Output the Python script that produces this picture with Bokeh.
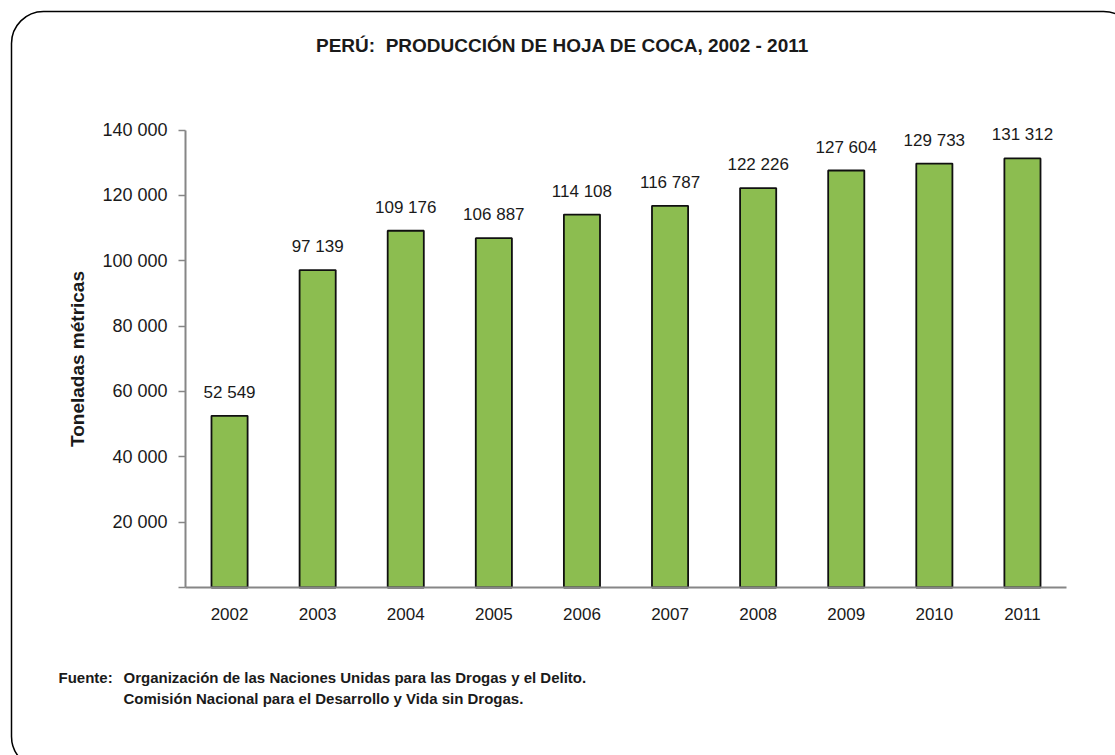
from bokeh.plotting import figure
from bokeh.models import (ColumnDataSource, Range1d, FixedTicker,
                          LabelSet, Label, BoxAnnotation)
from bokeh.core.properties import value
from bokeh.embed import file_html
from bokeh.resources import INLINE

# ---- data ----
years = ["2002", "2003", "2004", "2005", "2006", "2007", "2008", "2009", "2010", "2011"]
production = [52549, 97139, 109176, 106887, 114108, 116787, 122226, 127604, 129733, 131312]
y_ticks = [0, 20000, 40000, 60000, 80000, 100000, 120000, 140000]
y_tick_labels = ["", "20 000", "40 000", "60 000", "80 000", "100 000", "120 000", "140 000"]
title_text = "PERÚ:\u00a0 PRODUCCIÓN DE HOJA DE COCA, 2002 - 2011"
y_title = "Toneladas métricas"
source_label = "Fuente:"
source_lines = ["Organización de las Naciones Unidas para las Drogas y el Delito.",
                "Comisión Nacional para el Desarrollo y Vida sin Drogas."]

FONT = "Liberation Sans"
TXT = "#1a1a1a"
AXIS = "#868686"
W, H = 1115, 755

# plot-area placement on the canvas (pixels)
PL, PR, PT, PB = 185, 1066, 129.5, 587
n = len(years)
px_per_x = (PR - PL) / n
px_per_y = (PB - PT) / y_ticks[-1]
x_lo = -PL / px_per_x
x_hi = n + (W - PR) / px_per_x
y_lo = -(H - PB) / px_per_y
y_hi = y_ticks[-1] + PT / px_per_y

xpos = [i + 0.5 for i in range(n)]
labels = [f"{v:,}".replace(",", " ") for v in production]
src = ColumnDataSource(dict(x=xpos, value=production, label=labels))

p = figure(width=W, height=H,
           x_range=Range1d(x_lo, x_hi), y_range=Range1d(y_lo, y_hi),
           output_backend="svg", toolbar_location=None, min_border=0)
p.title.text = ""
p.outline_line_color = None
p.xgrid.grid_line_color = None
p.ygrid.grid_line_color = None
p.background_fill_color = "white"
p.border_fill_color = "white"

p.vbar(x="x", top="value", width=0.41, source=src,
       fill_color="#8CBD50", line_color="#101010", line_width=1.8)

p.add_layout(LabelSet(x="x", y="value", text="label", source=src,
                      text_align="center", text_baseline="alphabetic", y_offset=18,
                      text_font=value(FONT), text_font_size=value("17px"),
                      text_color=value(TXT)))

# axes
xa = p.xaxis[0]
xa.fixed_location = 0
xa.bounds = (0, n)
xa.ticker = FixedTicker(ticks=xpos)
xa.major_label_overrides = {x: y for x, y in zip(xpos, years)}
xa.axis_line_color = AXIS
xa.axis_line_width = 2
xa.major_tick_line_color = None
xa.minor_tick_line_color = None
xa.major_tick_out = 0
xa.major_label_standoff = 20
xa.major_label_text_font = FONT
xa.major_label_text_font_size = "17px"
xa.major_label_text_color = TXT

ya = p.yaxis[0]
ya.fixed_location = 0
ya.bounds = (y_ticks[0], y_ticks[-1])
ya.ticker = FixedTicker(ticks=y_ticks)
ya.major_label_overrides = {t: l for t, l in zip(y_ticks, y_tick_labels)}
ya.axis_line_color = AXIS
ya.axis_line_width = 2
ya.major_tick_line_color = AXIS
ya.major_tick_line_width = 1.5
ya.major_tick_out = 7
ya.major_tick_in = 0
ya.minor_tick_line_color = None
ya.major_label_standoff = 11
ya.major_label_text_font = FONT
ya.major_label_text_font_size = "18px"
ya.major_label_text_color = TXT
ya.axis_label = y_title
ya.axis_label_text_font = FONT
ya.axis_label_text_font_style = "bold"
ya.axis_label_text_font_size = "19px"
ya.axis_label_text_color = TXT
ya.axis_label_standoff = 11

# texts (screen units: from canvas bottom-left)
p.add_layout(Label(x=562, y=H - 45, x_units="screen", y_units="screen",
                   text=title_text, text_align="center", text_baseline="alphabetic",
                   text_font=FONT, text_font_style="bold", text_font_size="19px",
                   text_color=TXT))

p.add_layout(Label(x=58, y=H - 677, x_units="screen", y_units="screen",
                   text=source_label, text_baseline="alphabetic",
                   text_font=FONT, text_font_style="bold", text_font_size="15px",
                   text_color=TXT))
for i, line in enumerate(source_lines):
    p.add_layout(Label(x=123, y=H - 677 - 21 * i, x_units="screen", y_units="screen",
                       text=line, text_baseline="alphabetic",
                       text_font=FONT, text_font_style="bold", text_font_size="15px",
                       text_color=TXT))

# rounded outer frame
p.add_layout(BoxAnnotation(left=11, right=1135, top=H - 11, bottom=H - 768,
                           left_units="screen", right_units="screen",
                           top_units="screen", bottom_units="screen",
                           fill_alpha=0, line_color="black", line_width=1.5,
                           line_alpha=1, border_radius=32, level="overlay",
                           editable=False))

open("out.html", "w").write(file_html(p, INLINE))
